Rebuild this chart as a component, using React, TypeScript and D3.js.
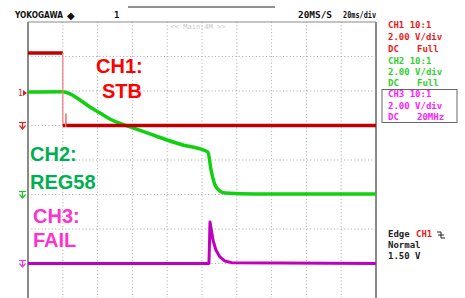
import React from "react";
import * as d3 from "d3";

// time in ms (20 ms/div, 10 div), volts (2 V/div)
const ch1T = [0, 20, 20, 21.6, 21.8, 22.0, 200];
const ch1V = [4.2, 4.2, 0, 0, 0.7, 0, 0];
const ch2T = [0, 20.1, 24.1, 29.9, 35.6, 41.4, 47.1, 52.9, 60.3, 70.1, 79.9, 89.1, 98.9, 103.4, 105.2, 107.5, 110.3, 113.2, 130, 200];
const ch2V = [5.94, 5.96, 5.83, 5.48, 5.07, 4.72, 4.38, 4.12, 3.86, 3.51, 3.16, 2.87, 2.64, 2.46, 1.42, 0.55, 0.2, 0.09, 0.03, 0.03];
const ch3T = [0, 104, 104.6, 106.3, 108, 110.3, 113.2, 117, 200];
const ch3V = [0, 0, 2.4, 1.36, 0.78, 0.38, 0.14, 0.05, 0];

const xTicks = d3.range(0, 201, 20);
const yDivTicks = d3.range(-4, 5, 1);

const W = 465, H = 298;
const L = 28, R = 376, T = 22, B = 298;

export default function App() {
  const x = d3.scaleLinear().domain([0, 200]).range([L, R]);
  const yDiv = d3.scaleLinear().domain([-4, 4]).range([B, T]);
  const vpd = 2;
  const mk = (ts: number[], vs: number[], off: number) =>
    ts.map((t, i) => [x(t), yDiv(off + vs[i] / vpd)] as [number, number]);
  const line = d3.line();
  const smooth = d3.line().curve(d3.curveMonotoneX);
  const p1 = mk(ch1T, ch1V, 1);
  const p2 = mk(ch2T, ch2V, -1);
  const p3 = mk(ch3T, ch3V, -3);

  // split CH1 into steady segments and fast edges
  const ch1Segs: { pts: [number, number][]; edge: boolean }[] = [];
  for (let i = 0; i < p1.length - 1; i++) {
    const a = p1[i], b = p1[i + 1];
    const edge = Math.abs(b[0] - a[0]) < 1;
    ch1Segs.push({ pts: [a, b], edge });
  }

  const mono = "'DejaVu Sans Mono', monospace";
  const red = "#f01818", grn = "#30d030", mag = "#ff20ff";
  const rowY = [28, 40, 52, 64, 75, 86, 97, 109, 120];

  const gnd = (y: number, c: string) => (
    <g stroke={c} strokeWidth={1.2} fill="none">
      <line x1={19} x2={26} y1={y - 3} y2={y - 3} />
      <line x1={22.5} x2={22.5} y1={y - 3} y2={y + 3} />
      <path d={`M19.5,${y} L22.5,${y + 3.5} L25.5,${y}`} />
    </g>
  );

  return (
    <svg width={W} height={H} style={{ position: "absolute", left: 0, top: 0, background: "#fff" }}
      fontFamily="'Liberation Sans', Arial, sans-serif">
      <rect x={0} y={0} width={W} height={H} fill="#fff" />
      {/* grid */}
      <g stroke="#a8a8a8" strokeWidth={1} strokeDasharray="1,2.4">
        {xTicks.slice(1, -1).map((t) => (
          <line key={"vx" + t} x1={x(t)} x2={x(t)} y1={T} y2={B} />
        ))}
        {yDivTicks.slice(1, -1).map((d) => (
          <line key={"hy" + d} x1={L} x2={R} y1={yDiv(d)} y2={yDiv(d)} />
        ))}
      </g>
      {/* frame */}
      <g stroke="#8a8a8a" strokeWidth={2} fill="none">
        <line x1={L} x2={R} y1={T} y2={T} strokeWidth={1.2} />
        <line x1={L} x2={L} y1={T} y2={B} />
        <line x1={R} x2={R} y1={T} y2={B} />
      </g>
      <text x={198} y={29} fontSize={7} fill="#c8c8c8" textAnchor="middle" fontFamily={mono}>{"<< Main:4M >>"}</text>

      {/* header */}
      <text x={15} y={18} fontSize={8} fontWeight="bold" fill="#111" fontFamily="'DejaVu Sans', sans-serif" textLength={48} lengthAdjust="spacingAndGlyphs">YOKOGAWA</text>
      <text x={67} y={19} fontSize={10} fill="#111">◆</text>
      <text x={114} y={18} fontSize={9} fontWeight="bold" fill="#111" fontFamily={mono}>1</text>
      <line x1={128} x2={275} y1={7} y2={7} stroke="#222" strokeWidth={1} />
      <text x={298} y={18} fontSize={8} fontWeight="bold" fill="#111" fontFamily={mono} textLength={34} lengthAdjust="spacingAndGlyphs">20MS/S</text>
      <text x={343} y={18} fontSize={8} fontWeight="bold" fill="#111" fontFamily={mono} textLength={33} lengthAdjust="spacingAndGlyphs">20ms/div</text>

      {/* right panel */}
      <g fontFamily={mono} fontSize={9} fontWeight="bold">
        <text x={388} y={rowY[0]} fill={red}>CH1 10:1</text>
        <text x={388} y={rowY[1]} fill={red}>2.00 V/div</text>
        <text x={388} y={rowY[2]} fill={red}>DC</text>
        <text x={417} y={rowY[2]} fill={red}>Full</text>
        <text x={388} y={rowY[3]} fill={grn}>CH2 10:1</text>
        <text x={388} y={rowY[4]} fill={grn}>2.00 V/div</text>
        <text x={388} y={rowY[5]} fill={grn}>DC</text>
        <text x={417} y={rowY[5]} fill={grn}>Full</text>
        <rect x={382} y={89.5} width={75} height={33} fill="none" stroke="#666" strokeWidth={1} />
        <text x={388} y={rowY[6]} fill={mag}>CH3 10:1</text>
        <text x={388} y={rowY[7]} fill={mag}>2.00 V/div</text>
        <text x={388} y={rowY[8]} fill={mag}>DC</text>
        <text x={417} y={rowY[8]} fill={mag}>20MHz</text>
        <text x={388} y={237} fill="#222">Edge</text>
        <text x={416} y={237} fill={red}>CH1</text>
        <path d="M437,232 L441,232 L441,238 L445,238 M438,235 L444,235" stroke="#222" strokeWidth={1} fill="none" />
        <text x={388} y={248} fill="#222">Normal</text>
        <text x={388} y={259} fill="#222">1.50 V</text>
      </g>

      {/* left markers */}
      <text x={18} y={96} fontSize={8} fill="#e02020" fontFamily={mono}>1</text>
      <path d="M23,90 L27,93 L23,96 Z" fill="#e02020" />
      {gnd(yDiv(1), "#e02020")}
      {gnd(yDiv(-1), "#20c020")}
      {gnd(yDiv(-3), "#e040e0")}

      {/* traces */}
      <path d={line(p3) || ""} fill="none" stroke="#c000c0" strokeWidth={3} strokeLinejoin="round" />
      <path d={smooth(p2) || ""} fill="none" stroke="#10d010" strokeWidth={3.5} strokeLinejoin="round" />
      {ch1Segs.map((s, i) => (
        <path key={i} d={line(s.pts) || ""} fill="none"
          stroke={s.edge ? "#f08080" : "#c00000"}
          strokeWidth={s.edge ? 1.3 : 3.5} />
      ))}

      {/* labels */}
      <g fontWeight="bold" fontSize={20}>
        <text x={96} y={73} fill="#ff0000">CH1:</text>
        <text x={102} y={98} fill="#ff0000">STB</text>
        <text x={30} y={161} fill="#00b050">CH2:</text>
        <text x={30} y={189} fill="#00b050">REG58</text>
        <text x={33} y={223} fill="#ff33cc">CH3:</text>
        <text x={33} y={247} fill="#ff33cc">FAIL</text>
      </g>
    </svg>
  );
}
